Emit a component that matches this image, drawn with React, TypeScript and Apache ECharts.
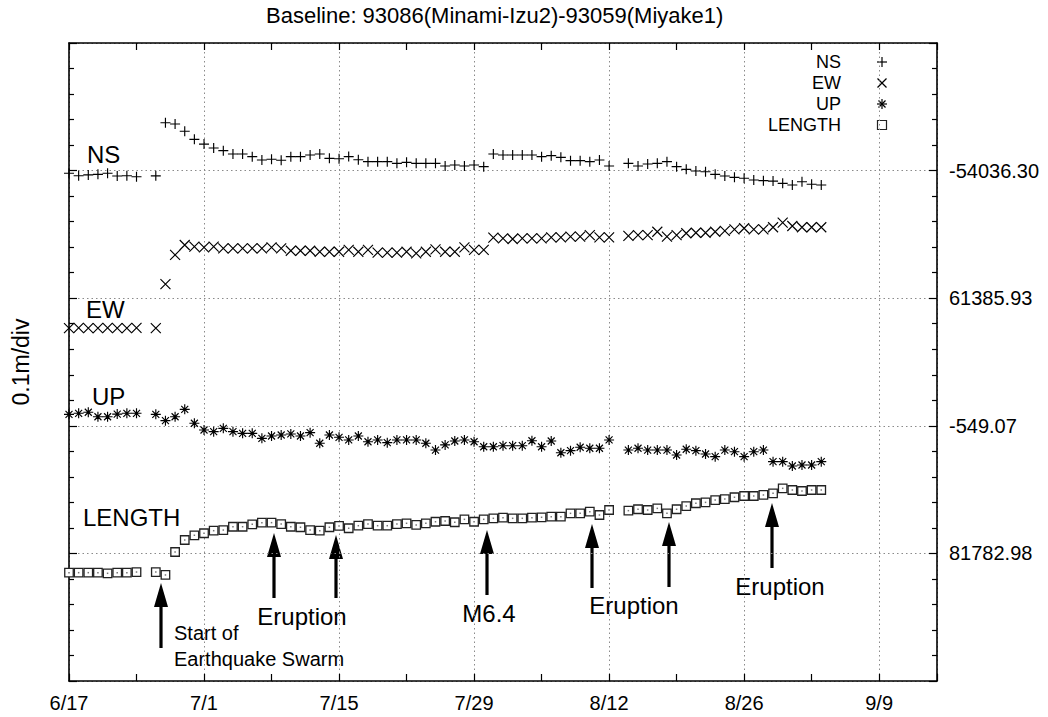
import React, { useEffect, useRef } from 'react';
import * as echarts from 'echarts';

// Day offsets from 6/17 (daily solutions, gaps on 6/25 and 8/13)
const days = [0, 1, 2, 3, 4, 5, 6, 7,
  9, 10, 11, 12, 13, 14, 15, 16, 17, 18, 19, 20, 21, 22, 23, 24, 25, 26, 27, 28, 29, 30, 31, 32,
  33, 34, 35, 36, 37, 38, 39, 40, 41, 42, 43, 44, 45, 46, 47, 48, 49, 50, 51, 52, 53, 54, 55, 56,
  58, 59, 60, 61, 62, 63, 64, 65, 66, 67, 68, 69, 70, 71, 72, 73, 74, 75, 76, 77, 78];

// Deviations (mm) from each component's reference value
const nsDev = [-2.1, -4.0, -3.4, -2.9, -2.1, -4.2, -4.0, -4.8,
  -4.1, 37.5, 36.5, 30.8, 24.5,
  20.8, 17.7, 15.6, 13.0, 13.0, 10.9, 8.3, 8.9, 8.1, 10.9,
  10.9, 12.2, 13.0, 9.6, 9.3, 11.0, 8.5, 7.0, 7.0, 7.0,
  5.7, 6.5, 5.7, 5.7, 5.7, 3.6, 4.4, 3.6, 4.4, 3.1, 13.0,
  12.2, 12.2, 12.2, 12.2, 10.9, 11.7, 10.4, 7.8, 7.8, 7.0, 8.3, 3.6,
  5.7, 3.6, 5.2, 5.7, 7.0, 3.1, 1.0, -0.3, -0.9, -2.9, -4.2, -5.3, -6.0, -7.4, -7.9, -8.2, -10.0, -11.3, -8.7, -10.7, -11.3];

const ewDev = [-23.4, -23.2, -23.4, -23.4, -23.2, -23.4, -23.4, -23.2,
  -23.4, 11.1, 33.9, 41.7, 40.4,
  39.9, 40.4, 39.1, 39.1, 39.1, 39.1, 39.1, 39.9, 39.1, 37.2,
  37.2, 37.2, 36.4, 36.4, 36.4, 37.8, 36.4, 37.8, 35.7, 35.7,
  35.7, 36.4, 35.2, 36.4, 38.3, 36.4, 36.4, 39.9, 37.8, 37.8, 47.4,
  46.9, 46.4, 46.9, 46.9, 46.9, 47.7, 47.7, 48.2, 48.2, 49.5, 47.7, 47.7,
  48.9, 49.5, 49.5, 52.1, 48.2, 49.5, 50.9, 51.3, 51.3, 52.1, 52.7, 54.0, 54.8, 54.0, 54.0, 55.6, 59.2, 56.6, 55.6, 55.6, 55.6];

const upDev = [9.0, 9.8, 10.6, 7.1, 7.1, 9.2, 9.8, 9.8,
  9.0, 4.0, 7.1, 12.9, 2.0,
  -3.3, -4.6, -2.0, -4.6, -5.9, -5.9, -9.8, -8.0, -7.2, -6.4,
  -8.0, -5.4, -13.7, -7.2, -9.0, -11.1, -8.0, -12.5, -11.1, -13.2,
  -11.1, -11.1, -11.1, -13.7, -19.0, -15.0, -11.9, -11.1, -12.5, -16.4, -16.4,
  -15.6, -15.6, -15.6, -11.7, -16.4, -11.9, -21.1, -19.5, -16.8, -17.6, -17.6, -11.1,
  -19.0, -17.6, -19.0, -19.0, -19.0, -22.9, -18.4, -19.5, -22.1, -24.2, -19.0, -20.3, -24.2, -20.3, -19.0, -28.1, -28.1, -31.5, -30.7, -30.7, -28.1];

const lengthDev = [-15.1, -15.1, -15.1, -15.1, -15.6, -15.1, -15.1, -14.6,
  -14.6, -16.9, 1.1, 10.5, 14.2,
  15.8, 17.8, 18.3, 20.9, 20.9, 22.8, 24.1, 24.1, 23.0, 20.9,
  20.5, 18.3, 17.8, 20.5, 21.5, 19.7, 21.7, 23.0, 21.7, 21.7,
  23.0, 23.6, 22.3, 23.6, 24.8, 25.4, 24.4, 26.7, 24.8, 26.7, 27.5,
  28.0, 27.5, 27.5, 28.0, 28.3, 28.8, 28.8, 31.4, 31.4, 32.7, 30.1, 34.0,
  33.5, 34.6, 34.0, 35.3, 31.4, 34.6, 37.1, 39.3, 40.0, 41.8, 42.6, 44.0, 45.0, 45.0, 45.8, 47.1, 51.0, 49.7, 48.9, 49.7, 49.7];

const seriesNames = ['NS', 'EW', 'UP', 'LENGTH'];
const seriesOffsets = [400, 300, 200, 100]; // plotting offset in mm (0.1 m per division)
const xTickLabels = ['6/17', '7/1', '7/15', '7/29', '8/12', '8/26', '9/9'];
const yTickLabels = ['', '81782.98', '-549.07', '61385.93', '-54036.30', ''];

const FONT = '"Liberation Sans", Arial, Helvetica, sans-serif';

const PLUS = 'path://M0,5L10,5M5,0L5,10';
const CROSS = 'path://M0,0L10,10M0,10L10,0';
const STAR = 'path://M0,5L10,5M5,0L5,10M1.5,1.5L8.5,8.5M1.5,8.5L8.5,1.5M4.2,4.2L5.8,4.2L5.8,5.8L4.2,5.8Z';

function makeData(dev: number[], offset: number) {
  return days.map((d, i) => [d, offset + dev[i]]);
}

function txt(text: string, x: number, y: number, size: number, align = 'left') {
  return {
    type: 'text',
    x,
    y,
    silent: true,
    style: {
      text,
      fill: '#000',
      fontSize: size,
      fontFamily: FONT,
      align,
      textAlign: align,
      verticalAlign: 'middle',
      textVerticalAlign: 'middle',
    },
  };
}

function ln(x1: number, y1: number, x2: number, y2: number, w = 1.2) {
  return { type: 'line', silent: true, shape: { x1, y1, x2, y2 }, style: { stroke: '#000', lineWidth: w } };
}

function arrow(x: number, tip: number, tail: number) {
  const head = 24;
  return [
    ln(x, tip + head - 2, x, tail, 3.2),
    {
      type: 'polygon',
      silent: true,
      shape: { points: [[x, tip], [x - 7, tip + head], [x + 7, tip + head]] },
      style: { fill: '#000' },
    },
  ];
}

export default function App() {
  const ref = useRef<HTMLDivElement>(null);

  useEffect(() => {
    if (!ref.current) return;
    const chart = echarts.init(ref.current, null, { renderer: 'svg' });

    const axisLine = { show: true, onZero: false, lineStyle: { color: '#000', width: 1.6 } };
    const splitStyle = { color: '#8a8a8a', width: 1, type: [1.5, 3] as any };

    const lx = 882;
    const legendEls: any[] = [
      txt('NS', 841, 62, 18, 'right'),
      txt('EW', 841, 83, 18, 'right'),
      txt('UP', 841, 104, 18, 'right'),
      txt('LENGTH', 841, 125, 18, 'right'),
      ln(lx - 5, 62, lx + 5, 62), ln(lx, 57, lx, 67),
      ln(lx - 4.5, 78.5, lx + 4.5, 87.5), ln(lx - 4.5, 87.5, lx + 4.5, 78.5),
      ln(lx - 5, 104, lx + 5, 104), ln(lx, 99, lx, 109), ln(lx - 3.5, 100.5, lx + 3.5, 107.5), ln(lx - 3.5, 107.5, lx + 3.5, 100.5),
      { type: 'rect', silent: true, shape: { x: lx - 4.5, y: 120.5, width: 9, height: 9 }, style: { fill: '#fff', stroke: '#222', lineWidth: 1.2 } },
    ];

    const labelEls: any[] = [
      txt('NS', 87, 154, 24),
      txt('EW', 86, 309, 24),
      txt('UP', 92, 396, 24),
      txt('LENGTH', 83, 517, 24),
      txt('Start of', 174, 633, 20),
      txt('Earthquake Swarm', 174, 659, 20),
      txt('Eruption', 302, 616, 24, 'center'),
      txt('M6.4', 489, 613, 24, 'center'),
      txt('Eruption', 634, 605, 24, 'center'),
      txt('Eruption', 780, 586, 24, 'center'),
      ...arrow(161, 583, 648),
      ...arrow(274, 533, 598),
      ...arrow(336, 535, 598),
      ...arrow(487, 530, 595),
      ...arrow(592, 524, 588),
      ...arrow(669, 522, 587),
      ...arrow(772, 503, 568),
    ];

    const symbols = [PLUS, CROSS, STAR, 'rect'];
    const devs = [nsDev, ewDev, upDev, lengthDev];

    const series: any[] = seriesNames.map((name, k) => ({
      type: 'scatter',
      name,
      xAxisIndex: 0,
      yAxisIndex: 1,
      data: makeData(devs[k], seriesOffsets[k]),
      symbol: symbols[k],
      symbolSize: k === 3 ? 8.5 : 10,
      itemStyle: k === 3
        ? { color: '#fff', borderColor: '#222', borderWidth: 1.3, opacity: 1 }
        : { color: '#000', borderColor: '#000', borderWidth: 1.15, opacity: 1 },
      emphasis: { disabled: true },
      silent: true,
      z: 3,
    }));
    series.push({
      type: 'scatter',
      name: 'LENGTH-center',
      xAxisIndex: 0,
      yAxisIndex: 1,
      data: makeData(lengthDev, seriesOffsets[3]),
      symbol: 'rect',
      symbolSize: 1.5,
      itemStyle: { color: '#777', opacity: 1 },
      emphasis: { disabled: true },
      silent: true,
      z: 4,
    });

    chart.setOption({
      animation: false,
      backgroundColor: '#fff',
      title: {
        text: 'Baseline: 93086(Minami-Izu2)-93059(Miyake1)',
        left: 266,
        top: 4,
        padding: 0,
        textStyle: { fontSize: 22, fontWeight: 'normal', color: '#000', fontFamily: FONT },
      },
      grid: { left: 69, right: 111, top: 43, bottom: 36 },
      xAxis: [
        {
          type: 'value', position: 'bottom', min: 0, max: 90, interval: 7,
          axisLine,
          axisTick: { show: true, inside: true, length: 7, lineStyle: { color: '#000', width: 1.2 } },
          axisLabel: {
            show: true, margin: 12, fontSize: 20, color: '#000', fontFamily: FONT,
            formatter: (v: number) => (v % 14 === 0 ? xTickLabels[v / 14] ?? '' : ''),
          },
          splitLine: { show: false },
        },
        {
          type: 'value', position: 'top', min: 0, max: 90, interval: 7,
          axisLine,
          axisTick: { show: true, inside: true, length: 7, lineStyle: { color: '#000', width: 1.2 } },
          axisLabel: { show: false },
          splitLine: { show: false },
        },
        {
          type: 'value', position: 'bottom', min: 0, max: 90, interval: 14,
          axisLine: { show: false }, axisTick: { show: false }, axisLabel: { show: false },
          splitLine: { show: true, lineStyle: splitStyle },
        },
      ],
      yAxis: [
        {
          type: 'value', position: 'left', min: 0, max: 500, interval: 100,
          axisLine,
          axisTick: { show: true, inside: true, length: 8, lineStyle: { color: '#000', width: 1.2 } },
          minorTick: { show: true, splitNumber: 5, length: 5, lineStyle: { color: '#000', width: 1.2 } },
          axisLabel: { show: false },
          splitLine: { show: false },
          name: '0.1m/div',
          nameLocation: 'middle',
          nameGap: 37,
          nameTextStyle: { fontSize: 23, color: '#000', fontFamily: FONT },
        },
        {
          type: 'value', position: 'right', min: 0, max: 500, interval: 100,
          axisLine,
          axisTick: { show: true, inside: true, length: 8, lineStyle: { color: '#000', width: 1.2 } },
          minorTick: { show: true, splitNumber: 5, length: 5, lineStyle: { color: '#000', width: 1.2 } },
          axisLabel: {
            show: true, margin: 12, fontSize: 20, color: '#000', fontFamily: FONT,
            formatter: (v: number) => yTickLabels[Math.round(v / 100)] ?? '',
          },
          splitLine: { show: true, lineStyle: splitStyle },
        },
      ],
      series,
      graphic: { elements: [...legendEls, ...labelEls] },
    });

    return () => chart.dispose();
  }, []);

  return (
    <div
      ref={ref}
      style={{ position: 'fixed', left: 0, top: 0, width: 1048, height: 717, background: '#fff' }}
    />
  );
}
